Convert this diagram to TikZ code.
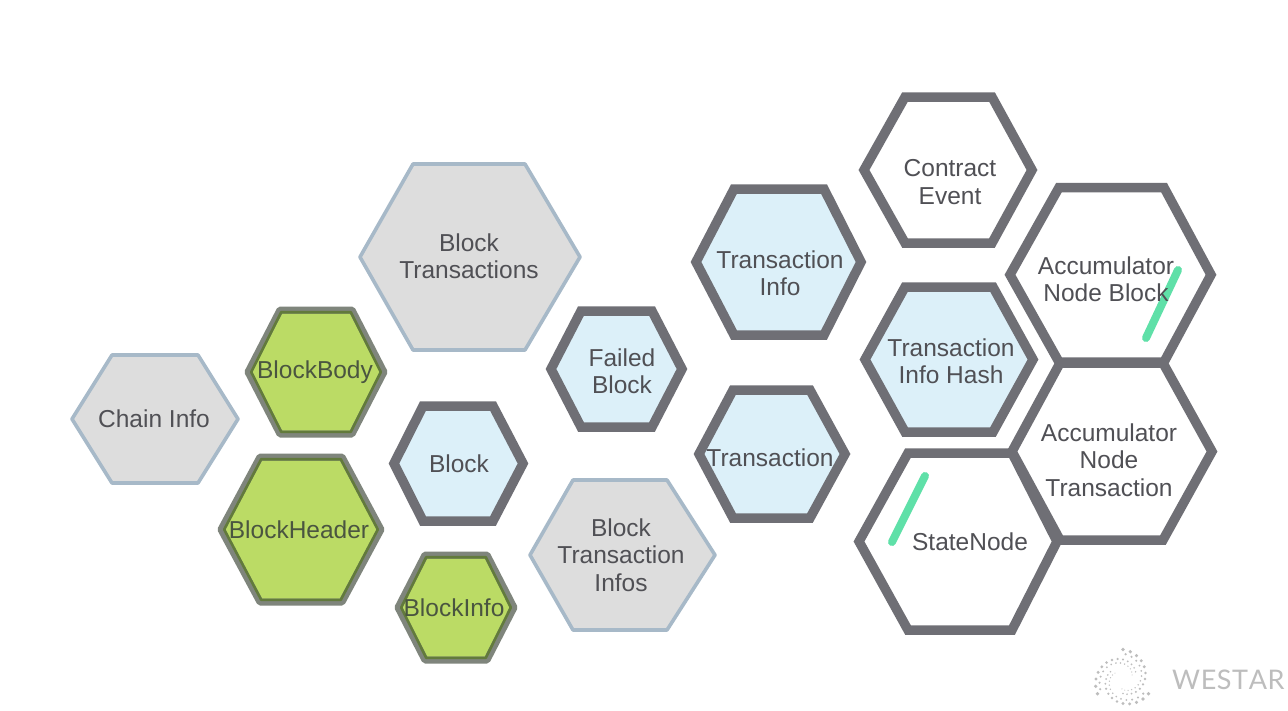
\documentclass[tikz,border=0pt]{standalone}
\usepackage{fontspec}
\setmainfont{Liberation Sans}
\newfontfamily\logofont{Lato}
\definecolor{hexgrey}{HTML}{DDDDDD}
\definecolor{hexblue}{HTML}{DCF0F9}
\definecolor{hexgreen}{HTML}{BBDB65}
\definecolor{edgegrey}{HTML}{A7B9C8}
\definecolor{edgedark}{HTML}{6F6F75}
\definecolor{edgeolive}{HTML}{7F857C}
\definecolor{edgemoss}{HTML}{627A3C}
\definecolor{ink}{HTML}{505055}
\definecolor{inkgreen}{HTML}{4A5540}
\definecolor{mint}{HTML}{5FE0A8}
\definecolor{logogrey}{HTML}{BDBDBD}
\tikzset{
  x=1pt,y=-1pt,
  greyhex/.style={draw=edgegrey,fill=hexgrey,line width=3.6pt,line join=round},
  bluehex/.style={draw=edgedark,fill=hexblue,line width=9.5pt},
  whitehex/.style={draw=edgedark,fill=white,line width=9.5pt},
  greenhex/.style={draw=edgeolive,fill=hexgreen,line width=7pt,line join=round},
  mossline/.style={draw=edgemoss,line width=2.6pt,line join=round},
  lbl/.style={text=ink,font=\fontsize{24.5}{27.5}\selectfont,align=center,inner sep=0pt},
  lblgreen/.style={text=inkgreen,font=\fontsize{24.5}{27.5}\selectfont,align=center,inner sep=0pt},
  slash/.style={draw=mint,line width=8pt,line cap=round},
  logodot/.style={fill=logogrey,draw=none},
  logotext/.style={text=logogrey,inner sep=0pt,anchor=west,font=\logofont\fontsize{27}{27}\selectfont}
}
% left,right,top,bottom,flat left,flat right
\newcommand{\hexpath}[7]{%
  \path[#1] (#2,{(#4+#5)/2}) -- (#6,#4) -- (#7,#4) -- (#3,{(#4+#5)/2}) -- (#7,#5) -- (#6,#5) -- cycle;}
\newcommand{\greenhexagon}[6]{%
  \hexpath{greenhex}{#1}{#2}{#3}{#4}{#5}{#6}%
  \hexpath{mossline}{#1+3.2}{#2-3.2}{#3+2.2}{#4-2.2}{#5+1.2}{#6-1.2}}
\begin{document}
\begin{tikzpicture}
\useasboundingbox (0,0) rectangle (1288,710);
\fill[white] (0,0) rectangle (1288,710);
% grey
\hexpath{greyhex}{72}{238}{355}{483}{112}{198}
\node[lbl] (chain) at (154,418.5) {Chain Info};
\hexpath{greyhex}{360}{580}{164}{350}{413}{525}
\node[lbl] (blocktx) at (469,256) {Block\\Transactions};
\hexpath{greyhex}{530}{715}{480}{630}{573}{667}
\node[lbl] (bti) at (621,555) {Block\\Transaction\\Infos};
% green
\greenhexagon{248}{384}{310}{434}{280}{352}
\node[lblgreen] (body) at (315,372.5) {BlockBody};
\greenhexagon{221}{381}{457}{602}{260}{342}
\node[lblgreen] (header) at (299,530) {BlockHeader};
\greenhexagon{398}{514}{555}{660}{425}{487}
\node[lblgreen] (info) at (454,607.5) {BlockInfo};
% blue
\hexpath{bluehex}{394}{523}{406}{521}{423}{493}
\node[lbl] (block) at (459,463.5) {Block};
\hexpath{bluehex}{551}{682}{311}{427}{581}{652}
\node[lbl] (failed) at (622,371) {Failed\\Block};
\hexpath{bluehex}{696}{861}{189}{335}{734}{824}
\node[lbl] (txinfo) at (780,273) {Transaction\\Info};
\hexpath{bluehex}{699}{845}{390}{518}{733}{810}
\node[lbl] (tx) at (770,457.5) {Transaction};
\hexpath{bluehex}{865}{1033}{287}{432}{905}{993}
\node[lbl] (hash) at (951,361) {Transaction\\Info Hash};
% white
\hexpath{whitehex}{864}{1032}{97}{243}{905}{992}
\node[lbl] (event) at (950,182) {Contract\\Event};
\hexpath{whitehex}{1010}{1211}{187.5}{362}{1059}{1164}
\coordinate (s1a) at (1178,270); \coordinate (s1b) at (1146,338);
\draw[slash] (s1a) -- (s1b);
\node[lbl] (nodeblock) at (1106,279) {Accumulator\\Node Block};
\hexpath{whitehex}{859}{1057}{453}{630}{908}{1012}
\hexpath{whitehex}{1012}{1212}{363}{540}{1060}{1163}
\node[lbl] (nodetx) at (1109,460) {Accumulator\\Node\\Transaction};
\coordinate (s2a) at (925,476); \coordinate (s2b) at (892,542);
\draw[slash] (s2a) -- (s2b);
\node[lbl] (state) at (970,541.5) {StateNode};
% logo
\foreach \arm in {30,150,270}{
  \foreach \i in {0,...,12}{
    \pgfmathsetmacro{\r}{29.5-1.25*\i}
    \pgfmathsetmacro{\t}{\arm+\i*15}
    \pgfmathsetmacro{\d}{1.9-0.09*\i}
    \fill[logodot] ({1123+\r*cos(\t)},{679+\r*sin(\t)}) circle[radius=\d];
    \fill[logodot] ({1123+(\r-4.5)*cos(\t+6)},{679+(\r-4.5)*sin(\t+6)}) circle[radius={\d*0.65}];
  }
}
\node[logotext] (westar) at (1172,680) {W\kern.6pt E\kern.6pt S\kern.6pt T\kern.6pt A\kern.6pt R};
\end{tikzpicture}
\end{document}
